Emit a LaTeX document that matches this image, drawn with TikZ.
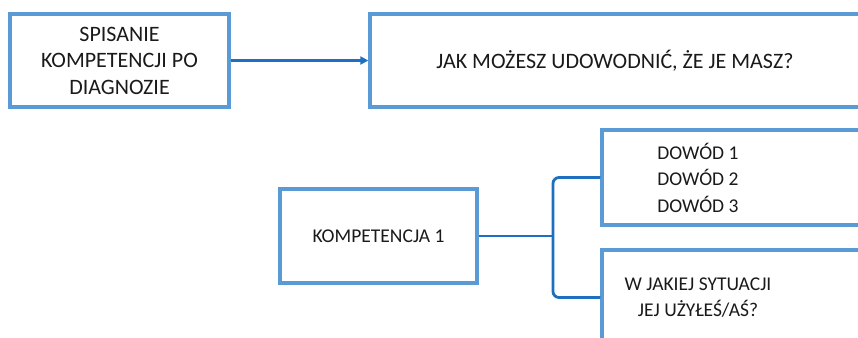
\documentclass[tikz,border=0pt]{standalone}
\usepackage{fontspec}
\setmainfont{Carlito}
\usetikzlibrary{arrows.meta}
\definecolor{boxblue}{HTML}{5B9BD5}
\definecolor{linkblue}{HTML}{1F6FC0}
\definecolor{txt}{HTML}{1A1A1A}
\tikzset{
  box/.style={draw=boxblue, line width=3.3pt, fill=white, rectangle, inner sep=0pt},
  lbl/.style={text=txt, align=center, font=\fontsize{22}{26.5}\selectfont, inner sep=0pt},
  lbls/.style={lbl, font=\fontsize{19.5}{26.5}\selectfont},
  conn/.style={draw=linkblue, line width=2.8pt},
}
\begin{document}
\begin{tikzpicture}[x=1pt,y=-1pt]
\useasboundingbox (0,0) rectangle (858,337);
\clip (0,0) rectangle (858,337);
% top row
\node[box, minimum width=219pt, minimum height=93pt] (s) at (119.5,60.5) {};
\node[lbl] (st) at (s.center) {SPISANIE\\KOMPETENCJI PO\\DIAGNOZIE};
\node[box, minimum width=490pt, minimum height=93pt] (q) at (615,60.5) {};
\node[lbl] (qt) at (615,60.5) {JAK MOŻESZ UDOWODNIĆ, ŻE JE MASZ?};
% bottom part
\node[box, minimum width=197pt, minimum height=94pt] (k) at (378.5,236) {};
\node[lbls] (kt) at (k.center) {KOMPETENCJA 1};
\node[box, minimum width=300pt, minimum height=95pt] (d) at (752,177.5) {};
\node[lbls] (dt) at (698,177.5) {DOWÓD 1\\DOWÓD 2\\DOWÓD 3};
\node[box, minimum width=300pt, minimum height=95pt] (w) at (752,297.5) {};
\node[lbls] (wt) at (698,297.5) {W JAKIEJ SYTUACJI\\JEJ UŻYŁEŚ/AŚ?};
% connectors
\draw[conn, -{Triangle[length=8pt,width=8pt]}] (s.east) -- (q.west);
\coordinate (j) at (553,236);
\draw[conn] (k.east) -- (j);
\draw[conn, rounded corners=6pt] (d.west) -| (j) |- (w.west);
\end{tikzpicture}
\end{document}
